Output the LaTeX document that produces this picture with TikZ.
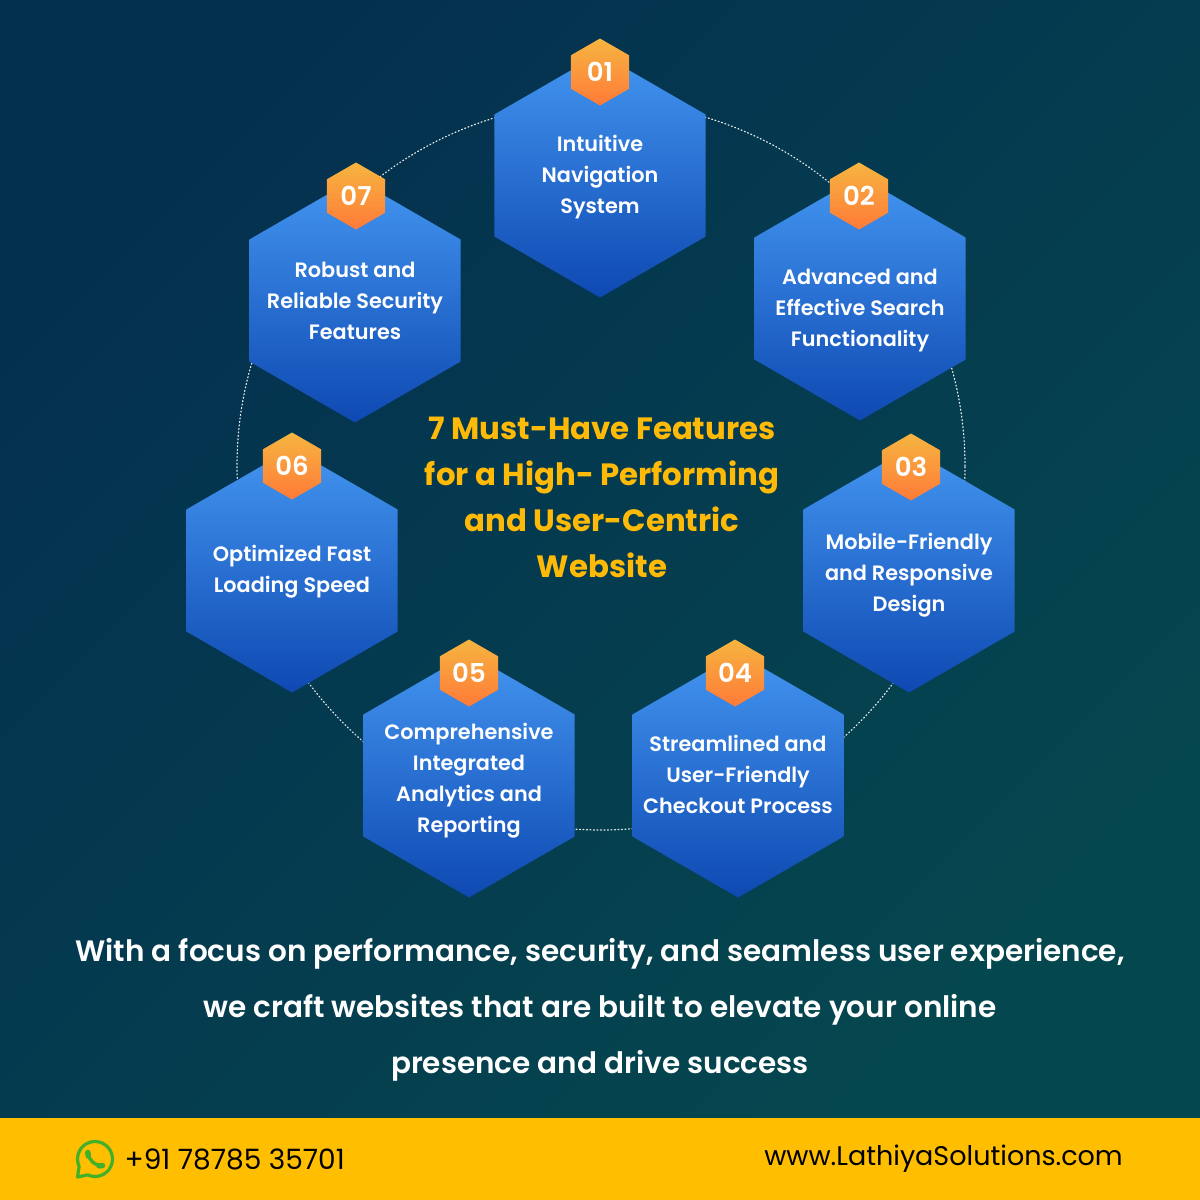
\documentclass[tikz,border=0pt]{standalone}
\usepackage{fontspec}
\setmainfont{Poppins}
\newfontfamily\popmed{Poppins Medium}
\newfontfamily\popsemi{Poppins SemiBold}
\newfontfamily\popbold{Poppins Bold}
\usetikzlibrary{shapes.geometric}
\definecolor{BgDark}{HTML}{04304F}
\definecolor{BgTeal}{HTML}{05474F}
\definecolor{BarYellow}{HTML}{FFBE00}
\definecolor{TitleYellow}{HTML}{FFBA08}
\definecolor{HexTop}{HTML}{4395F0}
\definecolor{HexBottom}{HTML}{0E49B2}
\definecolor{BadgeTop}{HTML}{F6B540}
\definecolor{BadgeBottom}{HTML}{FF7A38}
\definecolor{WaGreen}{HTML}{43B02A}
\tikzset{
  bighex/.style={regular polygon,regular polygon sides=6,regular polygon rotate=30,minimum size=244pt,inner sep=0pt,outer sep=0pt,top color=HexTop,bottom color=HexBottom},
  badge/.style={regular polygon,regular polygon sides=6,regular polygon rotate=30,minimum size=67pt,inner sep=0pt,outer sep=0pt,top color=BadgeTop,bottom color=BadgeBottom,text=white,font=\popsemi\fontsize{26}{26}\selectfont},
  hextext/.style={align=center,text=white,inner sep=0pt,font=\popsemi\fontsize{20.8}{31}\selectfont},
  titletext/.style={align=center,text=TitleYellow,inner sep=0pt,font=\popbold\fontsize{30.8}{46}\selectfont},
  foottext/.style={align=center,text=white,inner sep=0pt,font=\popsemi\fontsize{29.5}{56}\selectfont},
}
\begin{document}
\begin{tikzpicture}[x=1pt,y=-1pt,line cap=round,line join=round]
\useasboundingbox (0,0) rectangle (1200,1200);
\shade[left color=BgDark,right color=BgTeal,shading angle=45] (0,0) rectangle (1200,1118);
\fill[BarYellow] (0,1118) rectangle (1200,1200);
\node[circle,draw=white!90!BgDark,line width=1.2pt,dash pattern=on 1pt off 2.5pt,minimum size=728pt,inner sep=0pt] (ring) at (601,466) {};
\foreach \n/\hx/\hy/\bx/\by in {01/600/175.5/600/72,02/860/298.5/859/196,03/909/570.5/911/467,04/738/775.5/735/673,05/469/775.5/469/673,06/292/570.5/292/466,07/355/300.5/356/196}{
\node[bighex] (hex\n) at (\hx,\hy) {};
\node[badge] (badge\n) at (\bx,\by) {\n};
}
\node[hextext] (text01) at (600,177) {Intuitive\\Navigation\\System};
\node[hextext] (text02) at (860,310.5) {Advanced and\\Effective Search\\Functionality};
\node[hextext] (text03) at (909,575) {Mobile-Friendly\\and Responsive\\Design};
\node[hextext] (text04) at (738,774.5) {Streamlined and\\User-Friendly\\Checkout Process};
\node[hextext] (text05) at (469,780.5) {Comprehensive\\Integrated\\Analytics and\\Reporting};
\node[hextext] (text06) at (292,572) {Optimized Fast\\Loading Speed};
\node[hextext] (text07) at (355,301) {Robust and\\Reliable Security\\Features};
\node[titletext] (title) at (602,497) {7 Must-Have Features\\for a High- Performing\\and User-Centric\\Website};
\node[foottext] (foot) at (600,1010) {With a focus on performance, security, and seamless user experience,\\we craft websites that are built to elevate your online\\presence and drive success};
% whatsapp icon
\draw[WaGreen,line width=3.2pt] (95,1159) ++(115:17.5) arc[start angle=115,delta angle=-320,radius=17.5] -- (77.5,1177) -- cycle;
\draw[WaGreen,line width=3.4pt] (88,1153) .. controls (88.5,1160) and (95,1166) .. (103,1165.5);
\draw[WaGreen,line width=5.5pt,line cap=round] (87.8,1152.5) -- (88.3,1156);
\draw[WaGreen,line width=5.5pt,line cap=round] (99,1165.8) -- (102.5,1165.6);
\node[inner sep=0pt,anchor=west,text=black,font=\fontsize{28}{28}\selectfont] (phone) at (124.5,1159) {+91 78785 35701};
\node[inner sep=0pt,anchor=east,text=black,font=\fontsize{27}{27}\selectfont] (web) at (1123,1159) {www.LathiyaSolutions.com};
\end{tikzpicture}
\end{document}
